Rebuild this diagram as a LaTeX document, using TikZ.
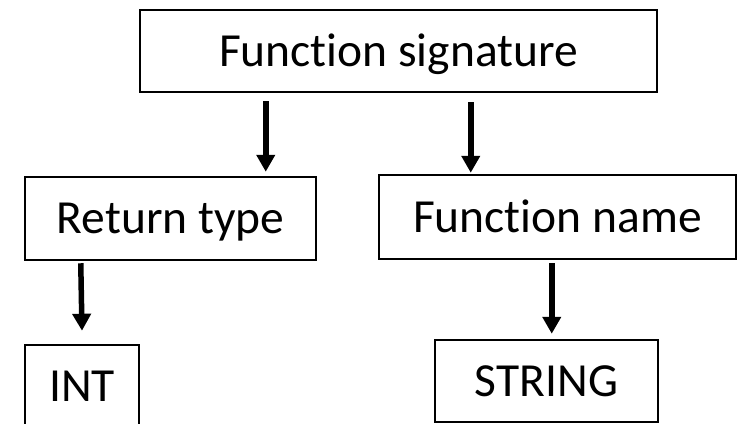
\documentclass[tikz,border=0pt]{standalone}
\usepackage{fontspec}
\setmainfont{Carlito}[Ligatures={NoCommon}]
\usetikzlibrary{arrows.meta}
\tikzset{
  box/.style={draw=black, line width=2.5pt, fill=white, inner sep=0pt,
    text height=30pt, text depth=0pt, font=\fontsize{47.5}{56}\selectfont},
  arr/.style={line width=5.5pt, -{Triangle[width=18pt,length=17pt]}}
}
\begin{document}
\begin{tikzpicture}[x=1pt, y=-1pt]
  \useasboundingbox (0,0) rectangle (738,423);
  \clip (0,0) rectangle (738,423);
  % boxes
  \node[box, minimum width=517pt, minimum height=82pt] (sig) at (398.5,51) {Function signature};
  \node[box, minimum width=291pt, minimum height=83pt] (rt) at (170.5,218.5) {Return type};
  \node[box, minimum width=357pt, minimum height=84pt] (fn) at (557.5,217) {Function name};
  \node[box, minimum width=114pt, minimum height=82pt] (int) at (82,386) {INT};
  \node[box, minimum width=223pt, minimum height=82pt] (str) at (546.5,381) {STRING};
  % connectors
  \draw[arr] ([shift={(127,8)}]sig.south west) -- ([shift={(242,-4)}]rt.north west);
  \draw[arr] ([shift={(332,9)}]sig.south west) -- ([shift={(93,-1)}]fn.north west);
  \draw[arr] ([shift={(57,2)}]rt.south west) -- ([shift={(0,-13)}]int.north);
  \draw[arr] ([shift={(174,3)}]fn.south west) -- ([shift={(118,-5)}]str.north west);
\end{tikzpicture}
\end{document}
